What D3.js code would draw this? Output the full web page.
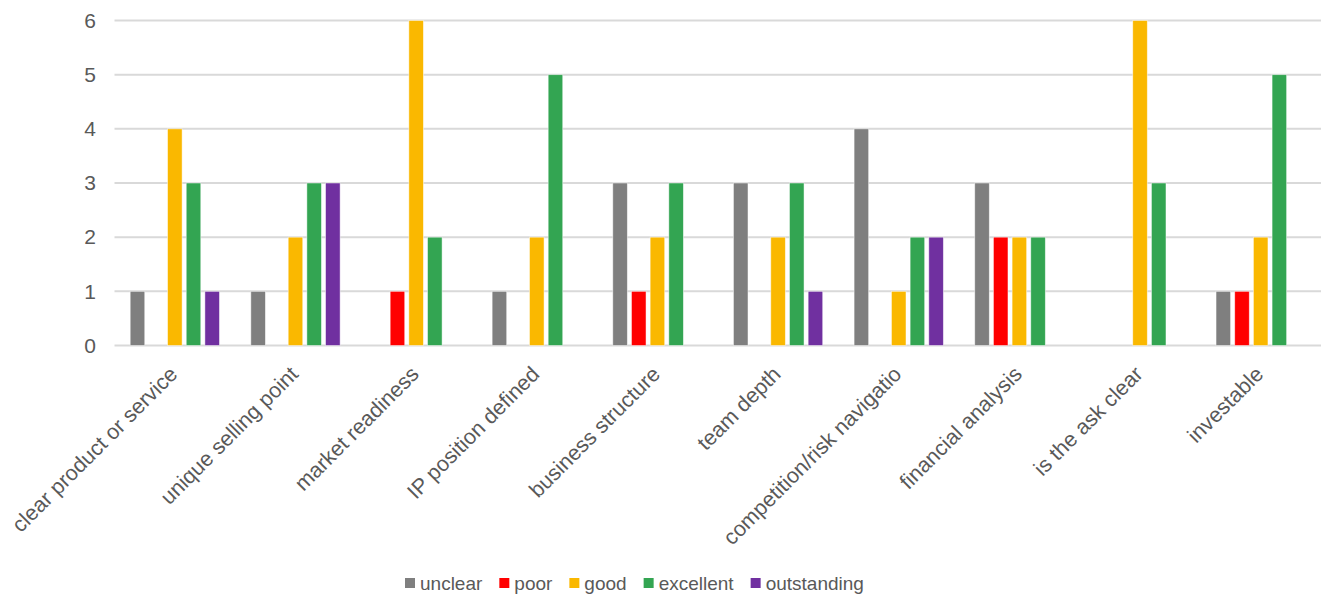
<!DOCTYPE html>
<html lang="en">
<head>
<meta charset="UTF-8"/>
<title>Pitch assessment</title>
<script src="https://d3js.org/d3.v7.min.js"></script>
<style>
    body { margin: 0; background: #fff; }
    text { font-family: "Liberation Sans", Arial, sans-serif; fill: #595959; }
    .grid line { stroke: #d9d9d9; stroke-width: 2; }
</style>
</head>
<body>
<div id="chart"></div>
<script>
    // data
    var categories = ["clear product or service", "unique selling point", "market readiness",
        "IP position defined", "business structure", "team depth", "competition/risk navigatio",
        "financial analysis", "is the ask clear", "investable"];
    var seriesNames = ["unclear", "poor", "good", "excellent", "outstanding"];
    var unclear     = [1, 1, 0, 1, 3, 3, 4, 3, 0, 1];
    var poor        = [0, 0, 1, 0, 1, 0, 0, 2, 0, 1];
    var good        = [4, 2, 6, 2, 2, 2, 1, 2, 6, 2];
    var excellent   = [3, 3, 2, 5, 3, 3, 2, 2, 3, 5];
    var outstanding = [1, 3, 0, 0, 0, 1, 2, 0, 0, 0];
    var yTicks = [0, 1, 2, 3, 4, 5, 6];
    var colors = ["#7f7f7f", "#ff0000", "#fab800", "#33a552", "#7030a0"];

    var w = 1322, h = 597;
    var plotLeft = 114.5, plotRight = 1321, plotTop = 20.5, plotBottom = 345.5;

    var svg = d3.select("#chart").append("svg")
        .attr("width", w).attr("height", h);

    var x = d3.scaleBand()
        .domain(categories)
        .range([plotLeft, plotRight])
        .paddingInner(0.26)
        .paddingOuter(0.13);
    var x1 = d3.scaleBand()
        .domain(seriesNames)
        .range([0, x.bandwidth()])
        .paddingInner(0.22);
    var y = d3.scaleLinear()
        .domain([0, 6])
        .range([plotBottom, plotTop]);
    var color = d3.scaleOrdinal().domain(seriesNames).range(colors);

    // gridlines
    svg.append("g").attr("class", "grid")
        .selectAll("line").data(yTicks).join("line")
        .attr("x1", plotLeft).attr("x2", plotRight)
        .attr("y1", d => y(d)).attr("y2", d => y(d));

    // y axis labels
    var yAxis = d3.axisLeft(y).tickValues(yTicks).tickFormat(d3.format("d"))
        .tickSize(0).tickPadding(0);
    var gy = svg.append("g")
        .attr("transform", `translate(96,0)`)
        .call(yAxis);
    gy.select(".domain").remove();
    gy.selectAll("text").attr("font-size", 21).attr("fill", "#595959")
        .attr("font-family", "Liberation Sans, Arial, sans-serif");

    // bars
    var rows = categories.map((c, i) => ({
        cat: c,
        vals: [unclear[i], poor[i], good[i], excellent[i], outstanding[i]]
    }));
    svg.append("g").selectAll("g").data(rows).join("g")
        .attr("transform", d => `translate(${x(d.cat)},0)`)
        .selectAll("rect")
        .data(d => d.vals.map((v, j) => ({ name: seriesNames[j], v: v })).filter(e => e.v > 0))
        .join("rect")
        .attr("x", d => x1(d.name))
        .attr("width", x1.bandwidth())
        .attr("y", d => y(d.v))
        .attr("height", d => y(0) - y(d.v))
        .attr("fill", d => color(d.name))
        .attr("stroke", "#fff")
        .attr("stroke-opacity", 0.6)
        .attr("stroke-width", 0.8);

    // x axis labels
    var xAxis = d3.axisBottom(x).tickSize(0).tickPadding(0);
    var gx = svg.append("g")
        .attr("transform", `translate(0,${plotBottom})`)
        .call(xAxis);
    gx.select(".domain").remove();
    gx.selectAll("text")
        .attr("font-size", 21.5)
        .attr("fill", "#595959")
        .attr("font-family", "Liberation Sans, Arial, sans-serif")
        .attr("text-anchor", "end")
        .attr("dy", 0)
        .attr("y", 0)
        .attr("transform", "translate(4,30) rotate(-45)");

    // legend
    var legend = svg.append("g").attr("transform", "translate(405,583)");
    var lx = 0;
    seriesNames.forEach(function (s) {
        var item = legend.append("g").attr("transform", `translate(${lx},0)`);
        item.append("rect")
            .attr("x", 0).attr("y", -5).attr("width", 10).attr("height", 10)
            .attr("fill", color(s));
        var t = item.append("text")
            .attr("x", 15).attr("y", 7)
            .attr("font-size", 19)
            .text(s);
        lx += 15 + t.node().getComputedTextLength() + 17;
    });
</script>
</body>
</html>
